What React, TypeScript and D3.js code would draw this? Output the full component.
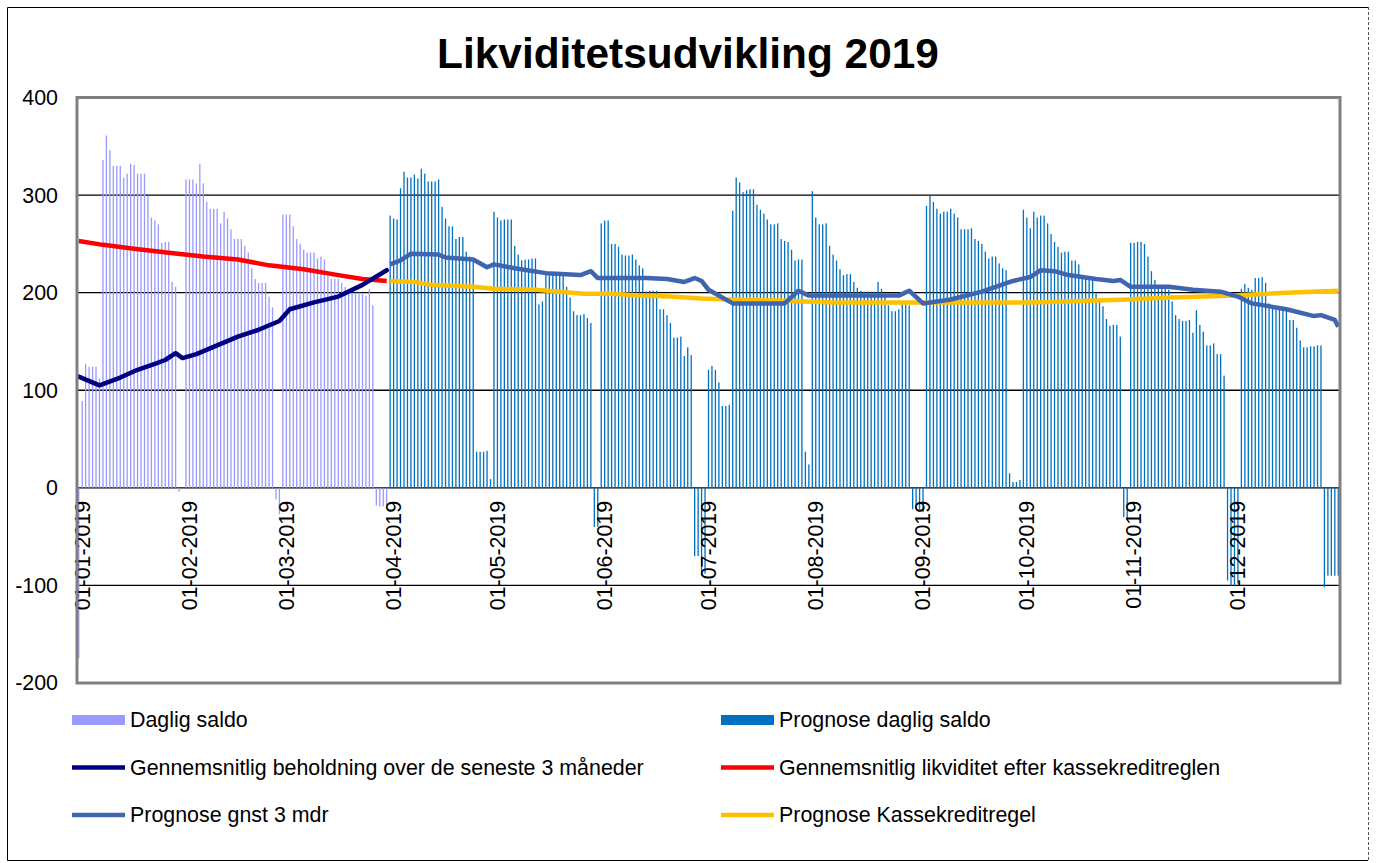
import React from 'react';
import * as d3 from 'd3';

// Daglig saldo (realised), one value per day
const saldoJan = [-175, 89, 127, 124, 124, 124, 112, 336, 361, 346, 330, 330, 330, 318, 322, 332, 331, 322, 322, 322, 299, 277, 274, 270, 251, 252, 252, 211, 206, -4, 0];
const saldoFeb = [316, 316, 316, 312, 332, 312, 293, 286, 286, 286, 271, 283, 276, 265, 255, 255, 255, 248, 241, 225, 214, 210, 210, 210, 196, 185, -12, -27];
const saldoMar = [280, 280, 280, 268, 255, 250, 244, 241, 241, 241, 235, 237, 234, 217, 214, 214, 214, 210, 206, 203, 200, 200, 200, 199, 197, 204, 187, -18, -19, -19, -22];

// Prognose daglig saldo
const prognoseApr = [279, 276, 275, 307, 324, 318, 318, 321, 317, 327, 322, 314, 314, 314, 316, 288, 276, 268, 268, 255, 257, 257, 242, 237, 232, 37, 37, 37, 38, 9];
const prognoseMaj = [283, 277, 274, 275, 275, 275, 248, 239, 233, 234, 234, 235, 235, 188, 191, 222, 218, 218, 218, 218, 218, 206, 195, 181, 177, 177, 178, 174, 169, -40, -40];
const prognoseJun = [271, 274, 274, 250, 250, 247, 239, 238, 238, 239, 234, 228, 225, 201, 202, 202, 202, 183, 183, 177, 169, 154, 154, 155, 135, 144, 136, -70, -70, -90];
const prognoseJul = [-88, 121, 125, 121, 108, 84, 84, 85, 284, 318, 313, 303, 305, 306, 306, 290, 285, 281, 275, 270, 270, 271, 255, 253, 252, 244, 233, 234, 234, 37, 24];
const prognoseAug = [304, 277, 270, 270, 271, 248, 239, 233, 224, 218, 219, 219, 211, 205, 202, 201, 201, 201, 201, 211, 204, 196, 187, 181, 181, 183, 188, 188, 187, -22, -22];
const prognoseSep = [-22, -25, 289, 300, 293, 286, 281, 283, 283, 286, 281, 277, 265, 265, 265, 266, 255, 253, 250, 242, 235, 237, 237, 230, 225, 223, 15, 6, 6, 8];
const prognoseOkt = [285, 277, 266, 283, 277, 279, 279, 271, 260, 252, 247, 241, 242, 242, 233, 233, 229, 216, 214, 214, 214, 199, 191, 186, 173, 166, 167, 167, 155, -30, -32];
const prognoseNov = [251, 251, 252, 252, 250, 237, 222, 213, 204, 204, 204, 203, 191, 177, 173, 171, 171, 172, 159, 182, 167, 160, 146, 146, 148, 137, 137, 115, -95, -100];
const prognoseDec = [-100, -98, 204, 209, 205, 203, 215, 215, 216, 210, 189, 185, 183, 183, 183, 183, 172, 172, 164, 151, 144, 144, 145, 145, 146, 146, -102, -90, -90, -90, -90];

// lines: [day of year, value]
const gnstBeholdning: [number, number][] = [
  [0, 114], [6, 105], [12, 113], [17, 121], [22, 127], [25, 131], [28, 138], [30, 133], [34, 137],
  [40, 146], [46, 155], [52, 162], [58, 171], [61, 183], [68, 190], [75, 196], [82, 208], [89, 223]
];
const gnstKassekredit: [number, number][] = [
  [0, 253], [7, 249], [16, 245], [26, 241], [36, 237], [46, 234], [55, 228], [65, 224], [75, 218], [82, 214], [89, 212]
];
const prognoseGnst: [number, number][] = [
  [90, 229], [93, 233], [96, 240], [104, 239], [106, 236], [114, 234], [118, 226], [120, 229], [126, 225],
  [135, 220], [145, 218], [148, 222], [150, 215], [164, 215], [170, 214], [175, 211], [178, 215], [180, 212],
  [182, 203], [189, 189], [204, 189], [208, 202], [211, 197], [223, 197], [237, 197], [240, 202], [244, 189],
  [252, 193], [261, 201], [270, 212], [275, 216], [278, 223], [282, 222], [286, 218], [294, 214], [299, 212],
  [301, 213], [304, 206], [315, 206], [322, 203], [330, 201], [335, 196], [339, 189], [349, 183], [357, 176],
  [359, 177], [363, 172], [364, 165]
];
const prognoseKassekredit: [number, number][] = [
  [90, 212], [97, 211], [102, 208], [114, 206], [120, 204], [132, 203], [139, 201], [146, 199], [154, 199],
  [162, 197], [171, 196], [180, 194], [188, 193], [202, 192], [218, 190], [275, 190], [285, 191], [303, 193],
  [316, 195], [334, 197], [349, 200], [364, 202]
];

const monthLabels = ['01-01-2019', '01-02-2019', '01-03-2019', '01-04-2019', '01-05-2019', '01-06-2019',
  '01-07-2019', '01-08-2019', '01-09-2019', '01-10-2019', '01-11-2019', '01-12-2019'];
const yTicks = [-200, -100, 0, 100, 200, 300, 400];

const FONT = '"Liberation Sans", Arial, sans-serif';
const C_SALDO = '#9999FF';
const C_PROGNOSE = '#0070C0';
const C_NAVY = '#000080';
const C_RED = '#FF0000';
const C_BLUE = '#3F64B0';
const C_YELLOW = '#FFC000';

const App: React.FC = () => {
  const width = 1378;
  const height = 863;
  const plot = { left: 77, right: 1340, top: 97.5, bottom: 683 };

  const start = new Date(2019, 0, 1);
  const end = new Date(2020, 0, 1);
  const x = d3.scaleTime().domain([start, end]).range([plot.left, plot.right]);
  const y = d3.scaleLinear().domain([-200, 400]).range([plot.bottom, plot.top]);
  const dayX = (d: number) => x(d3.timeHour.offset(d3.timeDay.offset(start, d), 12));

  const saldo = [...saldoJan, ...saldoFeb, ...saldoMar];
  const prognose = [...prognoseApr, ...prognoseMaj, ...prognoseJun, ...prognoseJul, ...prognoseAug,
    ...prognoseSep, ...prognoseOkt, ...prognoseNov, ...prognoseDec];
  const daily = [
    ...saldo.map((v, i) => ({ day: i, value: v, color: C_SALDO })),
    ...prognose.map((v, i) => ({ day: saldo.length + i, value: v, color: C_PROGNOSE }))
  ].filter(d => d.value !== 0);

  const line = d3.line<[number, number]>().x(p => dayX(p[0])).y(p => y(p[1]));
  const months = d3.timeMonth.range(start, end);

  const legend = [
    { label: 'Daglig saldo', color: C_SALDO, bar: true, col: 0, row: 0 },
    { label: 'Prognose daglig saldo', color: C_PROGNOSE, bar: true, col: 1, row: 0 },
    { label: 'Gennemsnitlig beholdning over de seneste 3 måneder', color: C_NAVY, bar: false, col: 0, row: 1 },
    { label: 'Gennemsnitlig likviditet efter kassekreditreglen', color: C_RED, bar: false, col: 1, row: 1 },
    { label: 'Prognose gnst 3 mdr', color: C_BLUE, bar: false, col: 0, row: 2 },
    { label: 'Prognose Kassekreditregel', color: C_YELLOW, bar: false, col: 1, row: 2 }
  ];

  return (
    <svg width={width} height={height} style={{ position: 'absolute', left: 0, top: 0, background: '#fff' }}
      fontFamily={FONT}>
      {/* chart frame */}
      <path d={`M1368,7.5 H7.5 V860.5 H1368`} fill="none" stroke="#000" strokeWidth={1} />
      <line x1={1368.5} x2={1368.5} y1={7} y2={861} stroke="#555" strokeDasharray="3,2" />

      <text x={688} y={68} textAnchor="middle" fontSize={42.4} fontWeight="bold" fill="#000">
        Likviditetsudvikling 2019
      </text>

      {/* gridlines */}
      {yTicks.filter(t => t > -200 && t < 400).map(t => (
        <line key={t} x1={plot.left} x2={plot.right} y1={y(t)} y2={y(t)} stroke="#000" strokeWidth={1.3} />
      ))}

      {/* y tick labels */}
      {yTicks.map(t => (
        <text key={t} x={58} y={y(t)} dy="0.35em" textAnchor="end" fontSize={21.4} fill="#000">{t}</text>
      ))}

      {/* daily bars */}
      {daily.map(d => (
        <rect key={d.day} x={dayX(d.day) - 0.65} width={1.3}
          y={Math.min(y(d.value), y(0))} height={Math.abs(y(d.value) - y(0))} fill={d.color} />
      ))}

      {/* month labels */}
      {months.map((m, i) => {
        const cx = x(m) + 5.5;
        return (
          <text key={i} transform={`translate(${cx},${y(0) + 13}) rotate(-90)`} textAnchor="end"
            dominantBaseline="central" fontSize={21.4} fill="#000">{monthLabels[i]}</text>
        );
      })}

      {/* lines */}
      <path d={line(gnstKassekredit) || ''} fill="none" stroke={C_RED} strokeWidth={4.5} strokeLinejoin="round" />
      <path d={line(gnstBeholdning) || ''} fill="none" stroke={C_NAVY} strokeWidth={4.5} strokeLinejoin="round" strokeLinecap="round" />
      <path d={line(prognoseKassekredit) || ''} fill="none" stroke={C_YELLOW} strokeWidth={4.5} strokeLinejoin="round" />
      <path d={line(prognoseGnst) || ''} fill="none" stroke={C_BLUE} strokeWidth={4.5} strokeLinejoin="round" />

      {/* plot border */}
      <rect x={plot.left} y={plot.top} width={plot.right - plot.left} height={plot.bottom - plot.top}
        fill="none" stroke="#808080" strokeWidth={3} />

      {/* legend */}
      {legend.map(l => {
        const lx = l.col === 0 ? 72 : 721;
        const ly = 720 + l.row * 47.5;
        return (
          <g key={l.label}>
            {l.bar
              ? <rect x={lx} y={ly - 5} width={53} height={10} fill={l.color} />
              : <line x1={lx} x2={lx + 53} y1={ly} y2={ly} stroke={l.color} strokeWidth={4.5} />}
            <text x={lx + 58} y={ly} dy="0.35em" fontSize={21.4} fill="#000">{l.label}</text>
          </g>
        );
      })}
    </svg>
  );
};

export default App;
